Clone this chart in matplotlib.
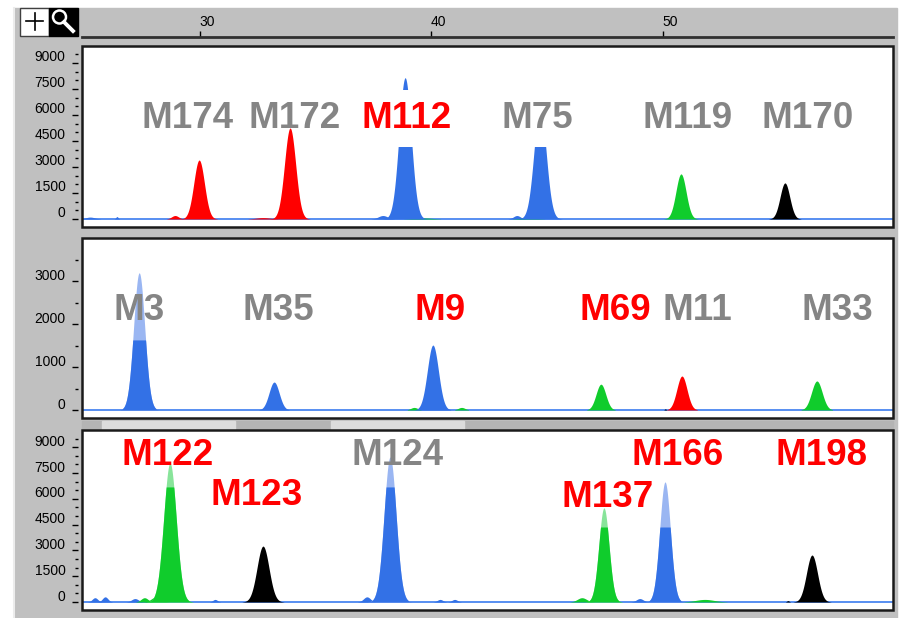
import numpy as np
import matplotlib.pyplot as plt
import matplotlib.transforms as mtransforms
from matplotlib.patches import Rectangle, Circle

# size axis (ruler units) shared by the three lanes
x_range = (24.9, 59.94)
ruler_ticks = [30, 40, 50]

# lane 1 : centre, height, width, colour
p1_pos = [29.96, 33.89, 38.86, 44.69, 50.78, 55.27]
p1_height = [3400, 5250, 8150, 6500, 2600, 2080]
p1_width = [0.23, 0.24, 0.26, 0.26, 0.22, 0.21]
p1_color = ['red', 'red', 'blue', 'blue', 'green', 'black']
p1_names = ['M174', 'M172', 'M112', 'M75', 'M119', 'M170']
p1_name_x = [29.44, 34.10, 38.94, 44.56, 51.08, 56.26]
p1_name_y = [5800, 5800, 5800, 5800, 5800, 5800]
p1_name_col = ['gray', 'gray', 'red', 'gray', 'gray', 'gray']
p1_boxed = [False, False, True, True, False, False]
n1_pos = [25.25, 26.41, 28.92, 32.72, 37.90, 43.69, 44.2, 39.6]
n1_height = [110, 140, 200, 80, 200, 200, 60, 60]
n1_width = [0.2, 0.05, 0.15, 0.3, 0.2, 0.15, 0.35, 0.4]
n1_color = ['blue', 'blue', 'red', 'red', 'blue', 'blue', 'green', 'green']

# lane 2
p2_pos = [27.37, 33.20, 40.06, 47.32, 50.82, 56.65]
p2_height = [3190, 650, 1510, 600, 790, 675]
p2_width = [0.24, 0.22, 0.24, 0.21, 0.22, 0.23]
p2_sat = [1630, None, None, None, None, None]
p2_color = ['blue', 'blue', 'blue', 'green', 'red', 'green']
p2_names = ['M3', 'M35', 'M9', 'M69', 'M11', 'M33']
p2_name_x = [27.37, 33.37, 40.37, 47.93, 51.47, 57.52]
p2_name_y = [2310, 2310, 2310, 2310, 2310, 2310]
p2_name_col = ['gray', 'gray', 'red', 'red', 'gray', 'gray']
n2_pos = [39.25, 41.3, 50.1]
n2_height = [60, 60, 25]
n2_width = [0.15, 0.15, 0.04]
n2_color = ['green', 'green', 'black']

# lane 3
p3_pos = [28.70, 32.72, 38.21, 47.45, 50.09, 56.44]
p3_height = [8080, 3250, 8430, 5470, 6980, 2730]
p3_width = [0.27, 0.26, 0.26, 0.22, 0.23, 0.24]
p3_sat = [6690, None, 6690, 4360, 4360, None]
p3_color = ['green', 'black', 'blue', 'green', 'blue', 'black']
p3_names = ['M122', 'M123', 'M124', 'M137', 'M166', 'M198']
p3_name_x = [28.62, 32.46, 38.55, 47.62, 50.65, 56.87]
p3_name_y = [8490, 6180, 8490, 6080, 8490, 8490]
p3_name_col = ['red', 'red', 'gray', 'red', 'red', 'red']
n3_pos = [25.46, 25.90, 27.19, 27.6, 28.1, 30.65, 37.21, 40.37, 41.0, 46.5, 49.0, 51.81, 55.4]
n3_height = [250, 300, 200, 250, 300, 150, 300, 150, 150, 250, 200, 150, 80]
n3_width = [0.12, 0.12, 0.15, 0.15, 0.2, 0.1, 0.15, 0.12, 0.12, 0.2, 0.15, 0.4, 0.05]
n3_color = ['blue', 'blue', 'blue', 'green', 'green', 'blue', 'blue', 'blue', 'blue',
            'green', 'blue', 'green', 'black']

dye = {'blue': '#3371e6', 'green': '#10cc2c', 'red': '#ff0000', 'black': '#000000'}
dye_light = {'blue': '#9ab6f2', 'green': '#88e49a'}
name_col = {'gray': '#858585', 'red': '#ff0000'}

W, H = 899, 618
fig = plt.figure(figsize=(W / 100, H / 100), dpi=100)


def rect(x0, y0, x1, y1):
    return [x0 / W, 1 - y1 / H, (x1 - x0) / W, (y1 - y0) / H]


# window background, toolbar icons, scroll strip
bg = fig.add_axes([0, 0, 1, 1])
bg.set_xlim(0, W)
bg.set_ylim(H, 0)
bg.axis('off')
bg.add_patch(Rectangle((14, 8), 883, 610, color='#c0c0c0'))
bg.plot([14, 14], [8, 618], color='#ececec', lw=1.5)
bg.add_patch(Rectangle((20, 8), 29, 28, facecolor='white', edgecolor='#404040', lw=1))
bg.plot([26, 43], [21, 21], color='black', lw=1.2)
bg.plot([34.5, 34.5], [12.5, 29.5], color='black', lw=1.2)
bg.add_patch(Rectangle((49, 8), 29, 28, color='black'))
bg.add_patch(Circle((59.5, 17), 6.5, fill=False, ec='white', lw=1.8))
bg.plot([64, 73], [22, 31], color='white', lw=2.8)
bg.add_patch(Rectangle((82, 421), 811, 8, color='#b4b4b4'))
for a, b in [(102, 235), (331, 464)]:
    bg.add_patch(Rectangle((a, 421), b - a, 8, color='#dcdcdc'))

# ruler
ax_r = fig.add_axes(rect(82, 8, 893, 37))
ax_r.patch.set_visible(False)
ax_r.set_xlim(x_range)
ax_r.set_ylim(0, 1)
for k in ['top', 'left', 'right']:
    ax_r.spines[k].set_visible(False)
ax_r.spines['bottom'].set_linewidth(2)
ax_r.spines['bottom'].set_color('#303030')
ax_r.set_yticks([])
ax_r.set_xticks(ruler_ticks)
ax_r.tick_params(axis='x', direction='in', length=4, width=1, labelbottom=False)
for t in ruler_ticks:
    ax_r.text(t - 0.03, 0.5, str(t), ha='left', va='center', fontsize=10,
              family='Liberation Sans')

xs = np.linspace(x_range[0], x_range[1], 4000)
lift = mtransforms.ScaledTranslation(0, 0.07, fig.dpi_scale_trans)


def lane(box, ylim, major, minor, pos, height, width, color, sat,
         npos, nheight, nwidth, ncolor, names, nx, ny, ncol, boxed):
    ax = fig.add_axes(rect(*box))
    ax.set_xlim(x_range)
    ax.set_ylim(ylim)
    ax.set_xticks([])
    ax.set_yticks(major)
    ax.set_yticks(minor, minor=True)
    ax.set_yticklabels([str(v) for v in major])
    for sp in ax.spines.values():
        sp.set_visible(False)
    ax.spines['left'].set_position(('outward', 3))
    ax.tick_params(axis='y', which='major', length=4.3, width=1, pad=4.5, labelsize=10)
    ax.tick_params(axis='y', which='minor', length=2.2, width=1)
    for lab in ax.get_yticklabels():
        lab.set_family('Liberation Sans')
        lab.set_transform(lab.get_transform() + lift)
    ax.add_patch(Rectangle((0, 0), 1, 1, transform=ax.transAxes, fill=False,
                           ec='#1a1a1a', lw=1.8, clip_on=False, zorder=6))
    ax.axhline(0, color='#4a86f0', lw=1.3, zorder=1)
    for c, h, w, col in zip(npos, nheight, nwidth, ncolor):
        y = h * np.exp(-0.5 * ((xs - c) / w) ** 2)
        ax.fill_between(xs, 0, y, where=y > 8, color=dye[col], lw=0, zorder=2)
    for c, h, w, col, s in zip(pos, height, width, color, sat):
        y = h * np.exp(-0.5 * ((xs - c) / w) ** 2)
        m = y > 8
        if s is None:
            ax.fill_between(xs, 0, y, where=m, color=dye[col], lw=0, zorder=3)
        else:
            ax.fill_between(xs, 0, y, where=m, color=dye_light[col], lw=0, zorder=3)
            ax.fill_between(xs, 0, np.minimum(y, s), where=m, color=dye[col], lw=0, zorder=3)
    for t, x, y, col, bx in zip(names, nx, ny, ncol, boxed):
        kw = {}
        if bx:
            kw['bbox'] = dict(boxstyle='square,pad=0.3', fc='white', ec='none')
        ax.text(x, y, t, ha='center', va='center', fontsize=26.5, fontweight='bold',
                family='Liberation Sans', color=name_col[col], zorder=5, **kw)
    return ax


lane((82, 46, 893, 227), (-462, 9980), [0, 1500, 3000, 4500, 6000, 7500, 9000],
     np.arange(0, 9600, 500), p1_pos, p1_height, p1_width, p1_color, [None] * 6,
     n1_pos, n1_height, n1_width, n1_color,
     p1_names, p1_name_x, p1_name_y, p1_name_col, p1_boxed)
lane((82, 238, 893, 418), (-186, 4000), [0, 1000, 2000, 3000],
     np.arange(0, 4000, 500), p2_pos, p2_height, p2_width, p2_color, p2_sat,
     n2_pos, n2_height, n2_width, n2_color,
     p2_names, p2_name_x, p2_name_y, p2_name_col, [False] * 6)
lane((82, 430, 893, 610), (-465, 10000), [0, 1500, 3000, 4500, 6000, 7500, 9000],
     np.arange(0, 9600, 500), p3_pos, p3_height, p3_width, p3_color, p3_sat,
     n3_pos, n3_height, n3_width, n3_color,
     p3_names, p3_name_x, p3_name_y, p3_name_col, [False] * 6)

fig.savefig('out.png', dpi=100)
